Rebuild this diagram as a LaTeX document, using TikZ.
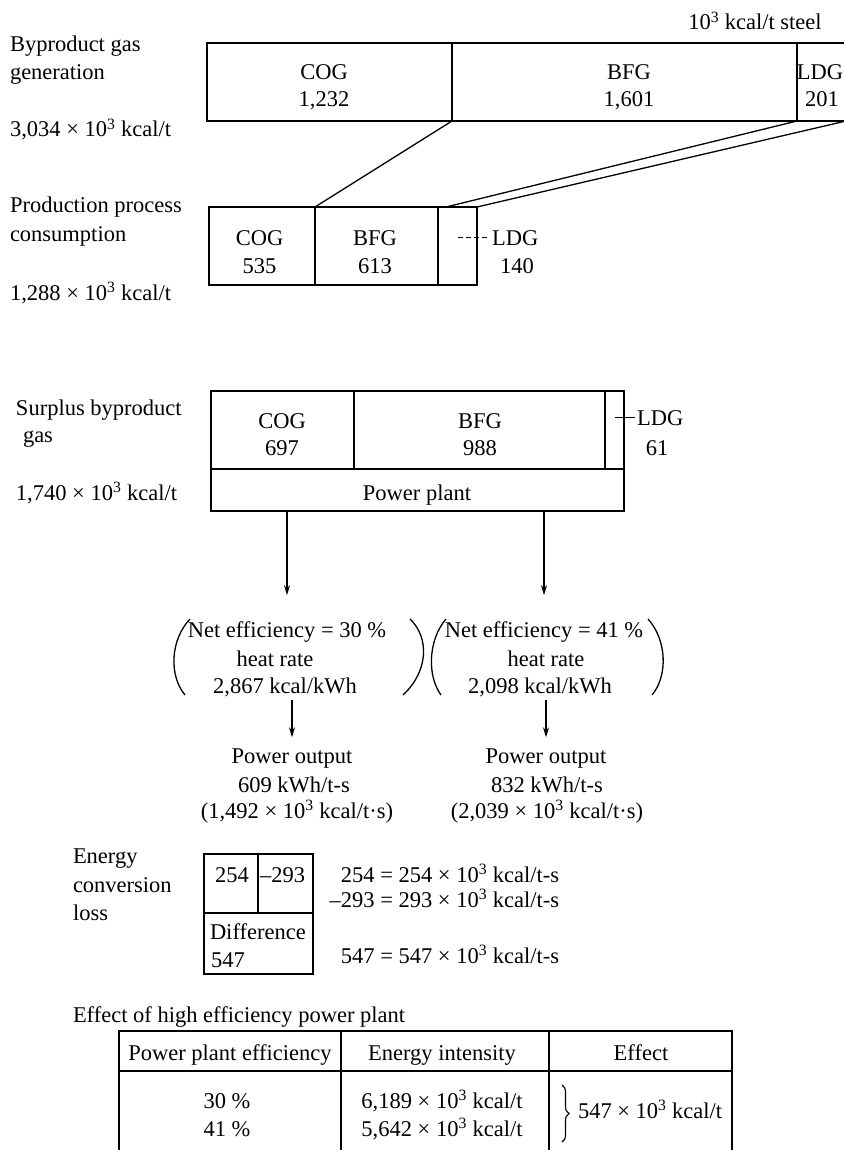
\documentclass[tikz,border=0pt]{standalone}
\usepackage{fontspec}
\setmainfont{Liberation Serif}
\usetikzlibrary{arrows.meta,decorations.pathreplacing}
\newcommand\tthree{10\textsuperscript{3}}
\begin{document}
\begin{tikzpicture}[x=1pt,y=-1pt,
  every node/.style={inner sep=0pt, outer sep=0pt},
  font=\fontsize{22.5}{27.5}\selectfont,
  tx/.style={anchor=base},
  tw/.style={anchor=base west},
  te/.style={anchor=base east},
  cell/.style 2 args={draw, line width=1.3pt, minimum width=#1, minimum height=#2},
  outer/.style={line width=2.4pt},
  conn/.style={line width=1.3pt},
  thinl/.style={line width=1.1pt},
  paren/.style={line width=1.3pt},
  arr/.style={line width=1.3pt, -{Stealth[length=10pt,width=6pt]}}]
\useasboundingbox (0,0) rectangle (843,1150);
\fill[white] (0,0) rectangle (843,1150);

% ---------- Byproduct gas generation ----------
\node[tx] (unit) at (755,30) {\tthree{} kcal/t steel};
\node[tw] (l1a) at (10,52) {Byproduct gas};
\node[tw] (l1b) at (10,80) {generation};
\node[tw] (l1c) at (10,137) {3,034 × \tthree{} kcal/t};

\node[cell={245pt}{78pt}] (cogT) at (329.5,82) {};
\node[cell={345pt}{78pt}] (bfgT) at (624.5,82) {};
\node[cell={49pt}{78pt}] (ldgT) at (821.5,82) {};
\draw[outer] (cogT.north west) rectangle (ldgT.south east);
\node[tx] (cogTa) at (324,80) {COG};
\node[tx] (cogTb) at (324,107) {1,232};
\node[tx] (bfgTa) at (629,80) {BFG};
\node[tx] (bfgTb) at (629,107) {1,601};
\node[tx] (ldgTa) at (820,80) {LDG};
\node[tx] (ldgTb) at (822,107) {201};

% ---------- Production process consumption ----------
\node[tw] (l2a) at (10,213) {Production process};
\node[tw] (l2b) at (10,242) {consumption};
\node[tw] (l2c) at (10,300) {1,288 × \tthree{} kcal/t};

\node[cell={106pt}{78pt}] (cogB) at (262,246) {};
\node[cell={123pt}{78pt}] (bfgB) at (376.5,246) {};
\node[cell={39pt}{78pt}] (ldgB) at (457.5,246) {};
\draw[outer] (cogB.north west) rectangle (ldgB.south east);
\node[tx] (cogBa) at (259.5,245) {COG};
\node[tx] (cogBb) at (259.5,273) {535};
\node[tx] (bfgBa) at (375,245) {BFG};
\node[tx] (bfgBb) at (375,273) {613};
\node[tw] (ldgBl) at (492,245) {LDG};
\node[tx] (ldgBn) at (517,273) {140};
\draw[thinl, dash pattern=on 5pt off 3pt] ([xshift=-34pt]ldgBl.west) -- ([xshift=-3pt]ldgBl.west);

\draw[conn] (cogT.south east) -- (cogB.north east);
\draw[conn] (bfgT.south east) -- ([xshift=8pt]ldgB.north west);
\draw[conn] (ldgT.south east) -- (ldgB.north east);

% ---------- Surplus byproduct gas ----------
\node[tw] (l3a) at (16,415) {Surplus byproduct};
\node[tw] (l3b) at (23,442) {gas};
\node[tw] (l3c) at (16,500) {1,740 × \tthree{} kcal/t};

\node[cell={143pt}{78pt}] (cogS) at (282.5,430) {};
\node[cell={251pt}{78pt}] (bfgS) at (479.5,430) {};
\node[cell={19pt}{78pt}] (ldgS) at (614.5,430) {};
\node[cell={413pt}{42pt}] (ppS) at (417.5,490) {};
\draw[outer] (cogS.north west) rectangle (ppS.south east);
\node[tx] (cogSa) at (282,428) {COG};
\node[tx] (cogSb) at (282,455) {697};
\node[tx] (bfgSa) at (480,428) {BFG};
\node[tx] (bfgSb) at (480,455) {988};
\node[tx] (ppt) at (417,500) {Power plant};
\node[tw] (ldgSl) at (637,425) {LDG};
\node[tx] (ldgSn) at (657,455) {61};
\draw[thinl] ([xshift=-22pt]ldgSl.west) -- ([xshift=-2pt]ldgSl.west);

% ---------- efficiencies ----------
\node[tx] (ne1) at (287,637) {Net efficiency = 30 \%};
\node[tx] (hr1) at (275,666) {heat rate};
\node[tx] (kw1) at (285,693) {2,867 kcal/kWh};
\node[tx] (ne2) at (544,637) {Net efficiency = 41 \%};
\node[tx] (hr2) at (546,666) {heat rate};
\node[tx] (kw2) at (540,693) {2,098 kcal/kWh};

\draw[paren] (190,619) .. controls (170,640) and (169,676) .. (185,695);
\draw[paren] (410,619) .. controls (430,638) and (428,672) .. (403,695);
\draw[paren] (446,619) .. controls (428,640) and (427,676) .. (441,695);
\draw[paren] (648,619) .. controls (667,640) and (668,676) .. (652,695);

\draw[arr, shorten >=26pt] (ppS.south -| ne1.north) -- (ne1.north);
\draw[arr, shorten >=26pt] (ppS.south -| ne2.north) -- (ne2.north);

% ---------- power output ----------
\node[tx] (po1) at (292,763) {Power output};
\node[tx] (pk1) at (294,792) {609 kWh/t-s};
\node[tx] (pc1) at (297,818) {(1,492 × \tthree{} kcal/t·s)};
\node[tx] (po2) at (546,763) {Power output};
\node[tx] (pk2) at (547,792) {832 kWh/t-s};
\node[tx] (pc2) at (547,818) {(2,039 × \tthree{} kcal/t·s)};

\draw[arr, shorten <=4pt, shorten >=11pt] (kw1.south -| po1.north) -- (po1.north);
\draw[arr, shorten <=4pt, shorten >=11pt] (kw2.south -| po2.north) -- (po2.north);

% ---------- energy conversion loss ----------
\node[tw] (l4a) at (73,863) {Energy};
\node[tw] (l4b) at (73,892) {conversion};
\node[tw] (l4c) at (73,920) {loss};

\node[cell={54pt}{59pt}] (c254) at (231,883.5) {};
\node[cell={55pt}{59pt}] (c293) at (285.5,883.5) {};
\node[cell={109pt}{61pt}] (cdif) at (258.5,943.5) {};
\draw[outer] (c254.north west) rectangle (cdif.south east);
\node[tx] (t254) at (232,882) {254};
\node[tw] (t293) at (260,882) {–293};
\node[tw] (tdif) at (210,939) {Difference};
\node[tw] (t547) at (211,967) {547};

\node[te] (e254) at (559,882) {254 = 254 × \tthree{} kcal/t-s};
\node[te] (e293) at (559,907) {–293 = 293 × \tthree{} kcal/t-s};
\node[te] (e547) at (559,963) {547 = 547 × \tthree{} kcal/t-s};

% ---------- table ----------
\node[tw] (ttl) at (73,1022) {Effect of high efficiency power plant};
\node[cell={222pt}{40pt}] (h1) at (230,1051) {};
\node[cell={208pt}{40pt}] (h2) at (445,1051) {};
\node[cell={183pt}{40pt}] (h3) at (640.5,1051) {};
\node[cell={222pt}{86pt}] (b1) at (230,1114) {};
\node[cell={208pt}{86pt}] (b2) at (445,1114) {};
\node[cell={183pt}{86pt}] (b3) at (640.5,1114) {};
\draw[outer] (h1.north west) rectangle (b3.south east);

\node[tx] (th1) at (230,1060) {Power plant efficiency};
\node[tx] (th2) at (442,1060) {Energy intensity};
\node[tx] (th3) at (641,1060) {Effect};
\node[tx] (r30) at (227,1108) {30 \%};
\node[tx] (r41) at (227,1136) {41 \%};
\node[tx] (i30) at (442,1108) {6,189 × \tthree{} kcal/t};
\node[tx] (i41) at (442,1136) {5,642 × \tthree{} kcal/t};
\draw[line width=1.1pt, decorate, decoration={brace, amplitude=7pt}] (562,1085) -- (562,1142);
\node[tw] (eff) at (578,1118) {547 × \tthree{} kcal/t};
\end{tikzpicture}
\end{document}
